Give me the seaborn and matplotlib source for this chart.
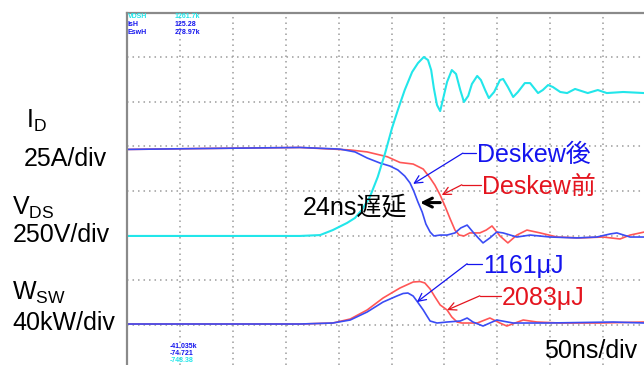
import numpy as np
import pandas as pd
import matplotlib
matplotlib.use("Agg")
import matplotlib.pyplot as plt
import seaborn as sns

# ---- Turn-off waveforms (time in ns from the left edge of the screen) ----
# Drain current after deskew [A]
t_id_after = [0, 69, 163.5, 201, 215.5, 227, 239, 248.5, 256, 262.5, 267.5, 271, 275, 279,
              282.5, 286.5, 290, 296, 302.5, 310, 315.5, 321.5, 327, 332, 336.5, 343, 349.5,
              355.5, 368.5, 381, 400, 425, 444, 456.5, 463, 475.5, 489]
id_after = [48.3, 48.8, 49.4, 48.5, 46.9, 43.5, 40.7, 39.0, 36.8, 33.4, 29.5, 25.0, 18.8, 13.2,
            6.5, 2.0, -0.2, 0.3, 0.3, 1.5, 4.3, 5.9, 2.0, -1.3, -4.1, -1.3, 2.0,
            1.5, -0.8, 0.3, -0.8, -1.3, -0.8, 0.9, 1.5, -0.8, -0.8]

# Drain current before deskew [A]
t_id_before = [0, 69, 163.5, 211, 227, 246, 258, 270.5, 280, 286.5, 291, 296, 300.5, 305.5,
               310, 314, 318.5, 324, 333.5, 339.5, 345, 352.5, 360, 368.5, 378, 390.5, 406.5,
               428, 450, 466, 475.5, 489]
id_before = [48.3, 48.8, 49.4, 48.0, 46.9, 44.2, 41.0, 40.1, 37.3, 32.3, 28.3, 22.7, 16.6, 9.3,
             3.1, 0.3, -0.2, 1.5, 1.5, 3.1, 5.4, -0.2, -4.1, 0.3, 3.1, 1.5, -0.8,
             -1.3, -0.8, -1.9, 0.3, 2.0]

# Drain-source voltage [V]
t_vds = [0, 69, 163.5, 182.5, 194.5, 208, 215.5, 222, 229.5, 237, 244, 250.5, 256, 262.5,
         269.5, 275, 280.5, 284.5, 287.5, 290, 293, 296, 298.5, 302.5, 307, 311, 315, 318.5,
         322.5, 326, 331, 334.5, 338.5, 342, 347, 352.5, 355.5, 360, 365, 369.5, 376, 381,
         388.5, 393, 398, 402.5, 409.5, 416, 423.5, 435.5, 445, 453.5, 469, 489]
vds = [-2, -2, -2, 3, 31, 71, 99, 144, 216, 329, 463, 603, 704, 816,
       917, 967, 1001, 984, 928, 827, 732, 698, 760, 861, 928, 906, 816, 749,
       783, 850, 895, 872, 816, 771, 805, 872, 878, 833, 777, 805, 855, 855,
       799, 816, 844, 833, 805, 799, 822, 799, 816, 799, 805, 799]

# Switching power after deskew [kW]
t_w_after = [0, 163.5, 194.5, 211, 227, 242, 255, 261, 265.5, 270.5, 274, 280, 283.5, 286.5,
             293, 302.5, 315, 321.5, 327, 336.5, 349.5, 365, 397, 459.5, 489]
w_after = [0.7, 0.7, 1.6, 4.3, 11.5, 20.4, 25.8, 28.1, 28.5, 25.8, 21.3, 13.3, 7.9, 3.4,
           1.6, 2.5, 3.4, 6.1, 2.5, -1.1, 4.3, 1.6, 1.6, 2.5, 1.6]

# Switching power before deskew [kW]
t_w_before = [0, 163.5, 194.5, 211, 227, 242, 258, 270.5, 277, 281.5, 286.5, 291, 296, 302.5,
              307, 312, 316.5, 331, 343, 352.5, 359, 374.5, 387.5, 409.5, 447, 489]
w_before = [0.7, 0.7, 1.6, 5.2, 13.3, 24.0, 33.0, 38.4, 38.8, 37.5, 32.1, 25.1, 17.8, 13.3,
            7.0, 2.5, 1.6, 1.6, 6.1, 1.6, -1.1, 4.3, 2.5, 1.6, 1.6, 2.5]

# Switching energy and delay annotations
energy_after_uJ = 1161
energy_before_uJ = 2083
delay_ns = 24

# Measurement readouts
readout_names = ["VDSH", "IsH", "EswH"]
readout_values = ["1261.7k", "125.28", "278.97k"]
cursor_values = ["-41.035k", "-74.721", "-748.38"]

# ---- Channel settings: units per division and zero position in divisions ----
NS_PER_DIV = 50
ID_SCALE, ID_ZERO = 25, -1
VDS_SCALE, VDS_ZERO = 250, -1
W_SCALE, W_ZERO = 40, -3

BLUE = "#3a4cf5"
RED = "#ff5656"
CYAN = "#22e6ea"
BLUE_TXT = "#1414ee"
RED_TXT = "#e4141e"


def channel(t, v, scale, zero):
    return pd.DataFrame({"x": np.asarray(t, float) / NS_PER_DIV,
                         "y": zero + np.asarray(v, float) / scale})


sns.set_theme(style="white")
plt.rcParams["font.family"] = ["Liberation Sans", "Noto Sans CJK JP", "DejaVu Sans"]
plt.rcParams["mathtext.fontset"] = "custom"
plt.rcParams["mathtext.rm"] = "Liberation Sans"

W_PX, H_PX = 644, 365
fig = plt.figure(figsize=(W_PX / 100, H_PX / 100), dpi=100)
fig.patch.set_facecolor("white")

# screen area: 52.9 px per horizontal division, 44.6 px per vertical division
left_px, top_px = 127, 12.6
ax = fig.add_axes([left_px / W_PX, 0, (W_PX - left_px) / W_PX, (H_PX - top_px) / H_PX])
ax.set_xlim(0, (W_PX - left_px) / 52.9)
ax.set_ylim(4 - (H_PX - top_px) / 44.6, 4)

# oscilloscope graticule
ax.set_xticks(np.arange(0, 10))
ax.set_yticks(np.arange(-3, 5))
ax.grid(True, color="#9c9c9c", linestyle=(0, (1, 2.6)), linewidth=1.1)
ax.set_axisbelow(True)
ax.tick_params(length=0, labelbottom=False, labelleft=False)
for side in ["right", "bottom"]:
    ax.spines[side].set_visible(False)
for side in ["left", "top"]:
    ax.spines[side].set_color("#8a8a8a")
    ax.spines[side].set_linewidth(1.6)

# traces
sns.lineplot(data=channel(t_id_before, id_before, ID_SCALE, ID_ZERO), x="x", y="y",
             color=RED, lw=1.2, estimator=None, ax=ax)
sns.lineplot(data=channel(t_w_before, w_before, W_SCALE, W_ZERO), x="x", y="y",
             color=RED, lw=1.2, estimator=None, ax=ax)
sns.lineplot(data=channel(t_id_after, id_after, ID_SCALE, ID_ZERO), x="x", y="y",
             color=BLUE, lw=1.2, estimator=None, ax=ax)
sns.lineplot(data=channel(t_w_after, w_after, W_SCALE, W_ZERO), x="x", y="y",
             color=BLUE, lw=1.2, estimator=None, ax=ax)
sns.lineplot(data=channel(t_vds, vds, VDS_SCALE, VDS_ZERO), x="x", y="y",
             color=CYAN, lw=1.5, estimator=None, ax=ax)
ax.set_xlabel("")
ax.set_ylabel("")


def callout(text, color, text_xy, elbow_x, tip):
    tx, ty = text_xy
    ax.text(tx, ty, text, color=color, fontsize=18, ha="left", va="baseline")
    ly = ty + 0.21
    ax.plot([elbow_x, tx - 0.02], [ly, ly], color=color, lw=0.9)
    ax.annotate("", xy=tip, xytext=(elbow_x, ly),
                arrowprops=dict(arrowstyle="->", color=color, lw=0.9,
                                shrinkA=0, shrinkB=0, mutation_scale=14))


callout("Deskew後", BLUE_TXT, (6.62, 0.64), 6.35, (5.41, 0.16))
callout("Deskew前", RED_TXT, (6.72, -0.07), 6.33, (5.95, -0.09))
callout(f"{energy_after_uJ}μJ", BLUE_TXT, (6.74, -1.84), 6.43, (5.48, -2.49))
callout(f"{energy_before_uJ}μJ", RED_TXT, (7.09, -2.56), 6.67, (6.05, -2.67))

ax.text(3.33, -0.54, f"{delay_ns}ns遅延", color="black", fontsize=18, ha="left", va="baseline")
ax.annotate("", xy=(5.54, -0.26), xytext=(5.92, -0.26),
            arrowprops=dict(arrowstyle="->", color="black", lw=2.2,
                            shrinkA=0, shrinkB=0, mutation_scale=16))
ax.text(7.89, -3.75, f"{NS_PER_DIV}ns/div", color="black", fontsize=18,
        ha="left", va="baseline")

# readouts
readout_colors = [CYAN, BLUE_TXT, BLUE_TXT]
for i, (name, val, col) in enumerate(zip(readout_names, readout_values, readout_colors)):
    yb = 1 - (18.3 + 8 * i) / H_PX
    fig.text(128 / W_PX, yb, name, color=col, fontsize=5, fontweight="bold", va="baseline")
    fig.text(175 / W_PX, yb, val, color=col, fontsize=5, fontweight="bold", va="baseline")
cursor_colors = [BLUE_TXT, BLUE_TXT, CYAN]
for i, (val, col) in enumerate(zip(cursor_values, cursor_colors)):
    yb = 1 - (347.5 + 7.2 * i) / H_PX
    fig.text(170 / W_PX, yb, val, color=col, fontsize=5, fontweight="bold", va="baseline")

# channel labels
labels = [(r"$\mathregular{I_D}$", 26.5, 128), ("25A/div", 24, 166),
          (r"$\mathregular{V_{DS}}$", 12.5, 215), ("250V/div", 12.5, 241.5),
          (r"$\mathregular{W_{SW}}$", 12, 300), ("40kW/div", 12.5, 330)]
for s, x, y in labels:
    fig.text(x / W_PX, 1 - y / H_PX, s, fontsize=18, color="black", ha="left", va="baseline")

fig.savefig("out.png", dpi=100)
